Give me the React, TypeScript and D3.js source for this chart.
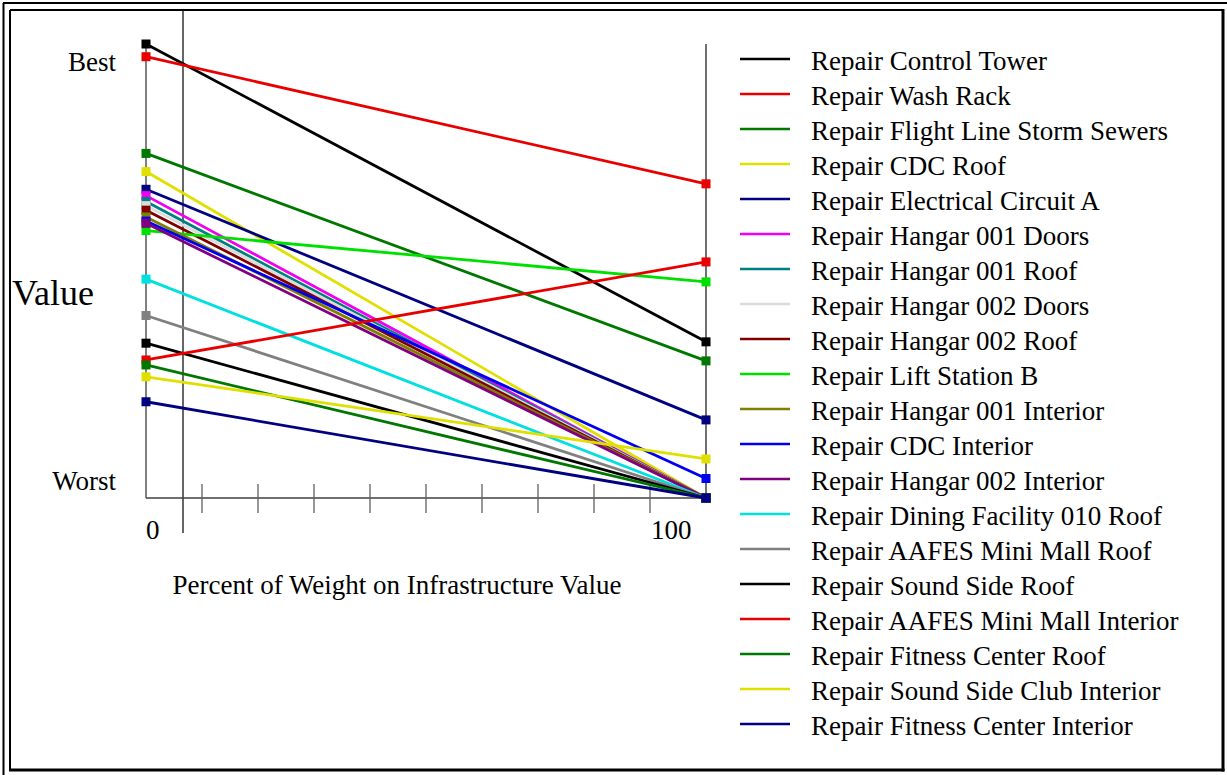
import React from "react";
import * as d3 from "d3";

const categories = [
  "Repair Control Tower",
  "Repair Wash Rack",
  "Repair Flight Line Storm Sewers",
  "Repair CDC Roof",
  "Repair Electrical Circuit A",
  "Repair Hangar 001 Doors",
  "Repair Hangar 001 Roof",
  "Repair Hangar 002 Doors",
  "Repair Hangar 002 Roof",
  "Repair Lift Station B",
  "Repair Hangar 001 Interior",
  "Repair CDC Interior",
  "Repair Hangar 002 Interior",
  "Repair Dining Facility 010 Roof",
  "Repair AAFES Mini Mall Roof",
  "Repair Sound Side Roof",
  "Repair AAFES Mini Mall Interior",
  "Repair Fitness Center Roof",
  "Repair Sound Side Club Interior",
  "Repair Fitness Center Interior",
];

// value at 0% weight on infrastructure value
const startValues = [
  1.0, 0.972, 0.759, 0.719, 0.68, 0.666, 0.653, 0.644, 0.634, 0.589,
  0.619, 0.61, 0.605, 0.482, 0.402, 0.341, 0.304, 0.293, 0.267, 0.212,
];
// value at 100% weight on infrastructure value
const endValues = [
  0.344, 0.692, 0.302, 0.0, 0.172, 0.0, 0.0, 0.0, 0.0, 0.476,
  0.0, 0.043, 0.0, 0.0, 0.0, 0.0, 0.52, 0.0, 0.086, 0.0,
];

const colors = [
  "#000000", "#e80000", "#007800", "#e0e000", "#000080",
  "#f000f0", "#008080", "#dcdcdc", "#800000", "#00e000",
  "#808000", "#0000f0", "#800080", "#00e0e0", "#808080",
  "#000000", "#e80000", "#007800", "#e0e000", "#000080",
];

const xTicks = [10, 20, 30, 40, 50, 60, 70, 80, 90];
const xTickLabels = ["0", "100"];
const yLabels = ["Worst", "Best"];

const W = 1227;
const H = 775;
const FONT = "'Liberation Serif', 'Times New Roman', serif";

export default function App() {
  const x = d3.scaleLinear().domain([0, 100]).range([146, 706]);
  const y = d3.scaleLinear().domain([0, 1]).range([498, 44]);
  const line = d3
    .line<[number, number]>()
    .x((d) => x(d[0]))
    .y((d) => y(d[1]));
  const legendY = (i: number) => 59 + i * 35;

  return (
    <svg
      width={W}
      height={H}
      style={{ position: "absolute", left: 0, top: 0, background: "#fff" }}
      fontFamily={FONT}
    >
      <rect x={0} y={0} width={W} height={H} fill="#fff" />
      {/* frames */}
      <line x1={3.5} y1={3} x2={3.5} y2={H} stroke="#000" strokeWidth={2} />
      <line x1={3} y1={3} x2={W} y2={3} stroke="#000" strokeWidth={2} />
      <line x1={10} y1={10} x2={1223} y2={10} stroke="#000" strokeWidth={2} />
      <line x1={10} y1={10} x2={10} y2={770} stroke="#000" strokeWidth={2} />
      <line x1={1223} y1={9} x2={1223} y2={771.5} stroke="#000" strokeWidth={3} />
      <line x1={9} y1={770} x2={1224.5} y2={770} stroke="#000" strokeWidth={3} />

      {/* current weight indicator */}
      <line x1={183} y1={10} x2={183} y2={533} stroke="#000" strokeWidth={1.2} />

      {/* axes */}
      <line x1={x(0)} y1={y(1)} x2={x(0)} y2={y(0)} stroke="#808080" strokeWidth={2} />
      <line x1={x(100)} y1={y(1)} x2={x(100)} y2={y(0)} stroke="#404040" strokeWidth={1.5} />
      <line x1={x(0)} y1={y(0)} x2={x(100)} y2={y(0)} stroke="#404040" strokeWidth={1.5} />
      {xTicks.map((t) => (
        <line
          key={t}
          x1={x(t)}
          x2={x(t)}
          y1={y(0) - 14}
          y2={y(0) + 15}
          stroke="#606060"
          strokeWidth={1.3}
        />
      ))}

      {/* series */}
      {categories.map((c, i) => {
        const pts: [number, number][] = [
          [0, startValues[i]],
          [100, endValues[i]],
        ];
        return (
          <g key={c}>
            <path d={line(pts) || ""} stroke={colors[i]} strokeWidth={2.8} fill="none" />
            {pts.map((p, j) => (
              <rect
                key={j}
                x={x(p[0]) - 4.5}
                y={y(p[1]) - 4.5}
                width={9}
                height={9}
                fill={colors[i]}
              />
            ))}
          </g>
        );
      })}

      {/* y labels */}
      <text x={116} y={71} fontSize={27} textAnchor="end">
        {yLabels[1]}
      </text>
      <text x={116} y={490} fontSize={27} textAnchor="end">
        {yLabels[0]}
      </text>
      <text x={12} y={305} fontSize={36}>
        Value
      </text>

      {/* x labels */}
      <text x={146} y={539} fontSize={27}>
        {xTickLabels[0]}
      </text>
      <text x={651} y={539} fontSize={27}>
        {xTickLabels[1]}
      </text>
      <text x={397} y={594} fontSize={27} textAnchor="middle">
        Percent of Weight on Infrastructure Value
      </text>

      {/* legend */}
      {categories.map((c, i) => (
        <g key={"lg" + i}>
          <line
            x1={740}
            x2={790}
            y1={legendY(i)}
            y2={legendY(i)}
            stroke={colors[i]}
            strokeWidth={2.5}
          />
          <text x={811} y={legendY(i) + 10.5} fontSize={27}>
            {c}
          </text>
        </g>
      ))}
    </svg>
  );
}
